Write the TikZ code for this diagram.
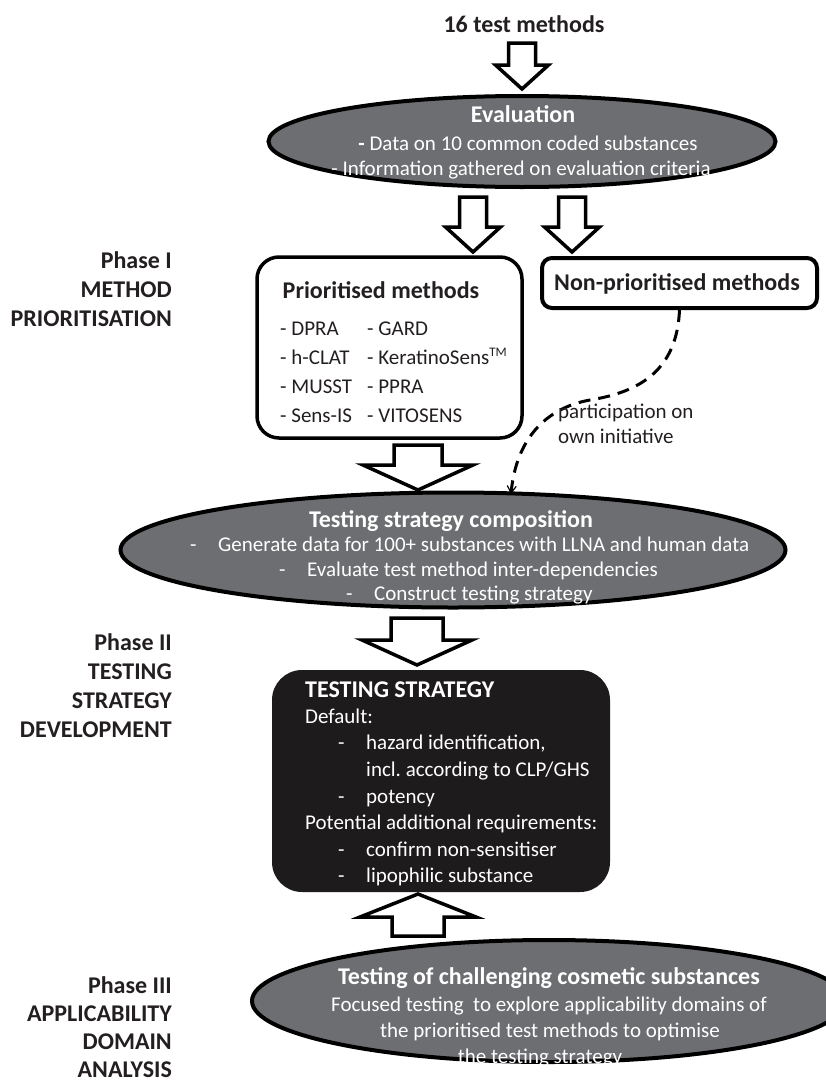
\documentclass[tikz,border=0pt]{standalone}
\usepackage{fontspec}
\setmainfont{Carlito}
\usetikzlibrary{arrows.meta,shapes.geometric}
\definecolor{ellgray}{RGB}{109,110,113}
\definecolor{boxblack}{RGB}{30,27,28}
\definecolor{txtblack}{RGB}{35,31,32}
\newcommand\blkarrow[6]{% cx, tail y, tip y, shaft w, head w, head length (negative = up)
  \draw[blk] ({#1-#4/2},#2) -- ({#1+#4/2},#2) -- ({#1+#4/2},{#3-(#6)}) -- ({#1+#5/2},{#3-(#6)})
    -- (#1,#3) -- ({#1-#5/2},{#3-(#6)}) -- ({#1-#4/2},{#3-(#6)}) -- cycle;}
\begin{document}
\begin{tikzpicture}[x=1pt,y=-1pt,
  blk/.style={draw=black, fill=white, line width=3.5pt, line join=miter},
  grayell/.style={ellipse, draw=black, fill=ellgray, line width=4pt, inner sep=0},
  phaselbl/.style={anchor=base east, inner sep=0, text=txtblack, font=\fontsize{24}{29}\selectfont\bfseries},
  btitle/.style={anchor=base, inner sep=0, text=txtblack, font=\fontsize{24}{29}\selectfont\bfseries},
  btext/.style={anchor=base west, inner sep=0, text=txtblack, font=\fontsize{21}{25}\selectfont},
  wtitle/.style={anchor=base, inner sep=0, text=white, font=\fontsize{24}{29}\selectfont\bfseries},
  wtitlel/.style={anchor=base west, inner sep=0, text=white, font=\fontsize{24}{29}\selectfont\bfseries},
  wbody/.style={anchor=base, inner sep=0, text=white, font=\fontsize{21}{25}\selectfont},
  wbodyl/.style={anchor=base west, inner sep=0, text=white, font=\fontsize{21}{25}\selectfont},
  dashconn/.style={draw=black, line width=3pt, dash pattern=on 12pt off 8pt,
    -{Straight Barb[length=7pt,width=9pt,line width=1.2pt]}},
]
\useasboundingbox (0,0) rectangle (826,1084);

% ---------- phase labels ----------
\node[phaselbl] (p1a) at (172,268) {Phase I};
\node[phaselbl] (p1b) at (172,297) {METHOD};
\node[phaselbl] (p1c) at (172,326) {PRIORITISATION};
\node[phaselbl] (p2a) at (172,650) {Phase II};
\node[phaselbl] (p2b) at (172,679) {TESTING};
\node[phaselbl] (p2c) at (172,708) {STRATEGY};
\node[phaselbl] (p2d) at (172,737) {DEVELOPMENT};
\node[phaselbl] (p3a) at (172,993) {Phase III};
\node[phaselbl] (p3b) at (172,1021) {APPLICABILITY};
\node[phaselbl] (p3c) at (172,1049) {DOMAIN};
\node[phaselbl] (p3d) at (172,1077) {ANALYSIS};

% ---------- top ----------
\node[btitle] (top) at (524,32) {16 test methods};
\blkarrow{522}{43}{89}{27}{53}{24}

% ---------- evaluation ----------
\node[grayell, minimum width=507pt, minimum height=91pt] (eval) at (522,141.5) {};
\node[wtitle] (evt) at (523,122) {Evaluation};
\node[wbody] (ev1) at (528,150) {\textbf{-} Data on 10 common coded substances};
\node[wbody] (ev2) at (521,175) {- Information gathered on evaluation criteria};

\blkarrow{473}{197}{252}{27}{55}{25}
\blkarrow{572}{197}{252}{27}{55}{25}

% ---------- prioritised ----------
\node[draw=black, line width=3.5pt, rounded corners=22pt, minimum width=265pt, minimum height=181pt, inner sep=0] (prio) at (389.5,347.5) {};
\node[btitle] (priot) at (381,298) {Prioritised methods};
\node[btext] (m1) at (280,335) {- DPRA};
\node[btext] (m2) at (280,364) {- h-CLAT};
\node[btext] (m3) at (280,393) {- MUSST};
\node[btext] (m4) at (280,422) {- Sens-IS};
\node[btext] (m5) at (367,335) {- GARD};
\node[btext] (m6) at (367,364) {- KeratinoSens\raisebox{8pt}{\fontsize{13}{13}\selectfont TM}};
\node[btext] (m7) at (367,393) {- PPRA};
\node[btext] (m8) at (367,422) {- VITOSENS};

% ---------- non-prioritised ----------
\node[draw=black, line width=4pt, rounded corners=10pt, minimum width=275pt, minimum height=50pt, inner sep=0] (np) at (679.5,283) {};
\node[btitle] (npt) at (677,290) {Non-prioritised methods};

\coordinate (dtip) at (511,494);
\draw[dashconn] (np.south) .. controls (677,370) and (640,392) .. (590,400)
   .. controls (545,408) and (516,440) .. (dtip);
\node[btext] (part1) at (558,418) {participation on};
\node[btext] (part2) at (558,443) {own initiative};

\blkarrow{418}{445}{490}{48}{110}{25}

% ---------- testing strategy composition ----------
\node[grayell, minimum width=665pt, minimum height=115pt] (tsc) at (453,550) {};
\node[wtitle] (tsct) at (451,527) {Testing strategy composition};
\node[wbodyl] (tsc1) at (190,551) {\makebox[28pt][l]{-}Generate data for 100+ substances with LLNA and human data};
\node[wbodyl] (tsc2) at (279,576) {\makebox[28pt][l]{-}Evaluate test method inter-dependencies};
\node[wbodyl] (tsc3) at (346,600) {\makebox[28pt][l]{-}Construct testing strategy};

\blkarrow{417}{618}{665}{52}{110}{25}

% ---------- testing strategy box ----------
\node[fill=boxblack, rounded corners=30pt, minimum width=338pt, minimum height=222pt, inner sep=0] (ts) at (441,781) {};
\node[wtitlel] (tst) at (305,697) {TESTING STRATEGY};
\node[wbodyl] (ts1) at (305,723) {Default:};
\node[wbodyl] (ts2) at (338,749.6) {\makebox[28pt][l]{-}hazard identification,};
\node[wbodyl] (ts3) at (366,776) {incl.\ according to CLP/GHS};
\node[wbodyl] (ts4) at (338,803) {\makebox[28pt][l]{-}potency};
\node[wbodyl] (ts5) at (305,829.5) {Potential additional requirements:};
\node[wbodyl] (ts6) at (338,856) {\makebox[28pt][l]{-}confirm non-sensitiser};
\node[wbodyl] (ts7) at (338,882.6) {\makebox[28pt][l]{-}lipophilic substance};

\blkarrow{418}{936}{894}{52}{116}{-23}

% ---------- challenging substances ----------
\node[grayell, minimum width=594pt, minimum height=122pt] (chal) at (549,1001) {};
\node[wtitle] (chalt) at (549,984) {Testing of challenging cosmetic substances};
\node[wbody] (chal1) at (549,1011) {Focused testing\ \ to explore applicability domains of};
\node[wbody] (chal2) at (550,1037) {the prioritised test methods to optimise};
\node[wbody] (chal3) at (540,1063) {the testing strategy};
\end{tikzpicture}
\end{document}
